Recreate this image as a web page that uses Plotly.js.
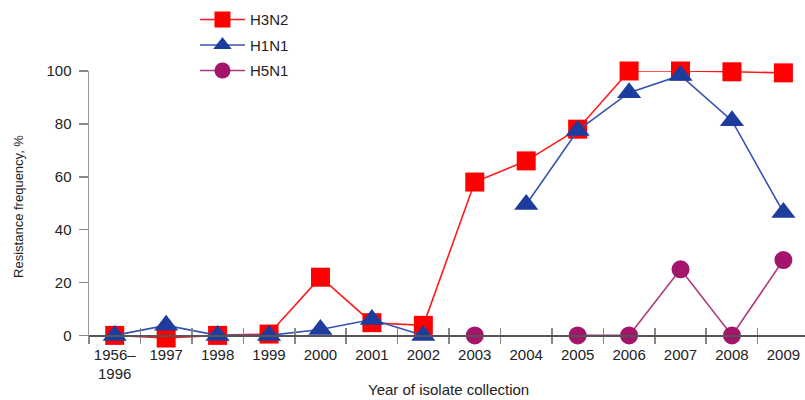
<!DOCTYPE html>
<html>
<head>
<meta charset="utf-8">
<script src="https://cdn.plot.ly/plotly-3.0.1.min.js"></script>
<style>html,body{margin:0;padding:0;background:#fff;}#chart{width:805px;height:400px;}</style>
</head>
<body>
<div id="chart"></div>
<script>
var years = ["1956–<br>1996","1997","1998","1999","2000","2001","2002","2003","2004","2005","2006","2007","2008","2009"];
var h3n2 = [0, -1, 0, 0.5, 22, 4.8, 3.8, 58, 66, 78, 100, 100, 99.7, 99.3];
var h1n1 = [0, 3.8, 0, 0, 2.2, 6, 0, null, 49.5, 77.5, 91.8, 98.3, 81.2, 46.5];
var h5n1 = [null, null, null, null, null, null, null, 0, null, 0, 0, 25, 0, 28.5];
var names = ["H3N2", "H1N1", "H5N1"];
var yTicks = [0, 20, 40, 60, 80, 100];
var xBoundaries = [0.5,1.5,2.5,3.5,4.5,5.5,6.5,7.5,8.5,9.5,10.5,11.5,12.5];
var xTitle = "Year of isolate collection";
var yTitle = "Resistance frequency, %";

var FONT = "Liberation Sans, Arial, Helvetica, sans-serif";
var ymin = -2.5, ymax = 100;
var xr = [-0.5, 13.42];
var pos = (0 - ymin) / (ymax - ymin);
var plotBottom = 335 + 2.5 * 2.64;
var plotH = plotBottom - 71;

var traces = [
  {x: years, y: h3n2, name: names[0], type: "scatter", mode: "lines+markers", cliponaxis: false,
   legendgroup: "a", line: {color: "#ff1a1a", width: 1.6},
   marker: {symbol: "square", size: 19, color: "#ff0000"}},
  {x: years, y: h1n1, name: names[1], type: "scatter", mode: "lines+markers", cliponaxis: false,
   connectgaps: false, legendgroup: "b", line: {color: "#3552b0", width: 1.6},
   marker: {symbol: "triangle-up", size: 21, color: "#1c3c9e"}},
  {x: years, y: h5n1, name: names[2], type: "scatter", mode: "lines+markers", cliponaxis: false,
   connectgaps: false, legendgroup: "c", line: {color: "#b2357f", width: 1.6},
   marker: {symbol: "circle", size: 18, color: "#a3156a"}},
  {x: [], y: [], xaxis: "x2", showlegend: false, hoverinfo: "skip", type: "scatter"}
];

var layout = {
  width: 805, height: 400,
  margin: {l: 89, r: 0, t: 71, b: 400 - plotBottom},
  paper_bgcolor: "#ffffff", plot_bgcolor: "#ffffff",
  font: {family: FONT, size: 15, color: "#222"},
  showlegend: true,
  legend: {x: 0.148, xanchor: "left", y: 1.25, yanchor: "top", font: {family: FONT, size: 15, color: "#222"},
           itemwidth: 45, tracegroupgap: 3, traceorder: "grouped", bgcolor: "rgba(0,0,0,0)"},
  xaxis: {type: "category", range: xr, anchor: "free", position: pos, tickangle: 0,
          tickson: "boundaries", ticks: "outside", ticklen: 7, tickcolor: "#888", tickwidth: 1.5,
          showline: true, linecolor: "#555", linewidth: 1.5, showgrid: false, zeroline: false,
          tickfont: {family: FONT, size: 15, color: "#222"}, ticklabelstandoff: 5,
          automargin: false},
  xaxis2: {type: "linear", range: xr, overlaying: "x", anchor: "free", position: pos,
           tickvals: xBoundaries, ticks: "inside", ticklen: 7, tickcolor: "#888", tickwidth: 1.5,
           showticklabels: false, showline: false, showgrid: false, zeroline: false},
  yaxis: {range: [ymin, ymax], tickvals: yTicks, ticks: "outside", ticklen: 9, tickcolor: "#888", tickwidth: 1.5,
          showline: true, linecolor: "#999", linewidth: 1.5, showgrid: false, zeroline: false,
          tickfont: {family: FONT, size: 15, color: "#222"}, ticklabelstandoff: 4,
          title: {text: yTitle, font: {family: FONT, size: 13, color: "#222"}, standoff: 20},
          automargin: false},
  annotations: [
    {text: xTitle, xref: "paper", yref: "paper", x: (448 - 89) / 716, xanchor: "center",
     y: (plotBottom - 389) / plotH, yanchor: "middle", showarrow: false, borderpad: 0,
     font: {family: FONT, size: 15, color: "#222"}}
  ]
};

Plotly.newPlot("chart", traces, layout, {displayModeBar: false, staticPlot: true});
</script>
</body>
</html>
